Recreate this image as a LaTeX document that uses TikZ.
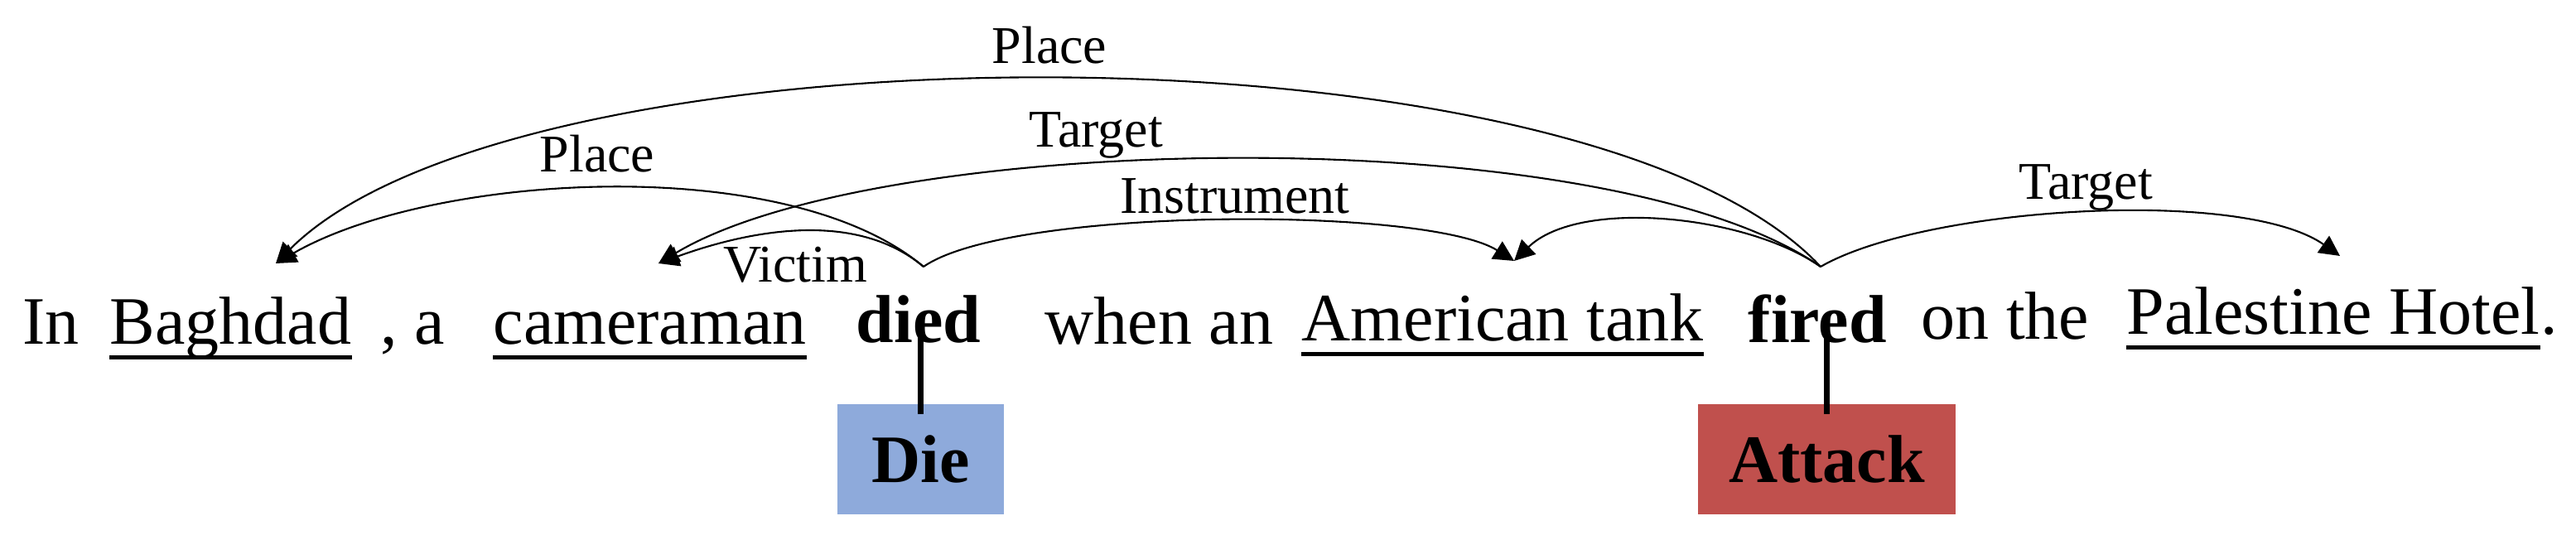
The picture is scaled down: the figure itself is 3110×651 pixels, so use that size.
\documentclass[tikz,border=0pt]{standalone}
\usepackage{fontspec}
\setmainfont{Liberation Serif}
\usepackage{tikz}
\usepackage{xcolor}
\usetikzlibrary{arrows.meta, calc, positioning}
\definecolor{dieblue}{HTML}{8EAADB}
\definecolor{attackred}{HTML}{C0504D}
\tikzset{
    word/.style = {inner sep = 0pt, anchor = base west, text depth = 0.155cm, font = \fontsize{23.3pt}{28pt}\selectfont},
    trigger/.style = {word, font = \fontsize{23.3pt}{28pt}\selectfont\bfseries},
    role/.style = {inner sep = 0pt, anchor = base, font = \fontsize{18.2pt}{22pt}\selectfont},
    arc/.style = {line width = 0.6pt, -{Triangle[length = 7pt, width = 7pt]}},
    uline/.style = {line width = 1.3pt},
    link/.style = {line width = 1.9pt},
    typebox/.style = {inner sep = 0pt, minimum height = 1.33cm, font = \fontsize{23.3pt}{28pt}\selectfont\bfseries},
}

\begin{document}
\begin{tikzpicture}[x = 0.01cm, y = 0.01cm]%{{{
                \useasboundingbox (0, 0) rectangle (3110, 651);

                \node (In) [word] at (27, 236) {In};
                \node (Baghdad) [word] at (132, 236) {Baghdad};
                \node (Comma) [word] at (459, 236) {, a};
                \node (Cameraman) [word] at (595, 236) {cameraman};
                \node (Died) [trigger] at (1033, 238) {died};
                \node (WhenAn) [word] at (1261, 236) {when an};
                \node (Tank) [word] at (1571, 240) {American tank};
                \node (Fired) [trigger] at (2110, 238) {fired};
                \node (OnThe) [word] at (2319, 242) {on the};
                \node (Hotel) [word] at (2567, 248) {Palestine Hotel};
                \node (Dot) [word] at (Hotel.base east) {.};

                \draw [uline] (Baghdad.south west) -- (Baghdad.south east);
                \draw [uline] (Cameraman.south west) -- (Cameraman.south east);
                \draw [uline] (Tank.south west) -- (Tank.south east);
                \draw [uline] (Hotel.south west) -- (Hotel.south east);

                \node (Die) [typebox, fill = dieblue, minimum width = 2.01cm] at (1111.5, 96.5) {Die};
                \node (Attack) [typebox, fill = attackred, minimum width = 3.11cm] at (2205.5, 96.5) {Attack};

                \draw [link] (Die.north |- Died.base) ++(0, 6) -- ([yshift = -0.13cm]Die.north);
                \draw [link] (Attack.north |- Fired.base) ++(0, 6) -- ([yshift = -0.13cm]Attack.north);

                \coordinate (DiedHub) at (1115, 329);
                \coordinate (FiredHub) at (2198, 329);
                \coordinate (BaghdadTip) at (333, 333);
                \coordinate (CameramanTip) at (795, 333);
                \coordinate (TankTip) at (1828, 336);
                \coordinate (HotelTip) at (2825, 342);

                \draw [arc] (DiedHub) to [out = 140, in = 30, looseness = 0.71] (BaghdadTip);
                \draw [arc] (DiedHub) to [out = 140, in = 20, looseness = 0.88] (CameramanTip);
                \draw [arc] (DiedHub) to [out = 35, in = 148, looseness = 0.45] (TankTip);

                \draw [arc] (FiredHub) to [out = 133, in = 45, looseness = 0.57] (BaghdadTip);
                \draw [arc] (FiredHub) to [out = 145, in = 31, looseness = 0.57] (CameramanTip);
                \draw [arc] (FiredHub) to [out = 145, in = 44, looseness = 0.755] (TankTip);
                \draw [arc] (FiredHub) to [out = 30, in = 145, looseness = 0.59] (HotelTip);

                \node (PlaceNear) [role] at (721, 443) {Place};
                \node (Victim) [role] at (960, 311) {Victim};
                \node (PlaceFar) [role] at (1267, 574) {Place};
                \node (TargetNear) [role] at (1323, 473) {Target};
                \node (Instrument) [role] at (1491, 394) {Instrument};
                \node (TargetFar) [role] at (2518, 411) {Target};
            \end{tikzpicture}
\end{document}
